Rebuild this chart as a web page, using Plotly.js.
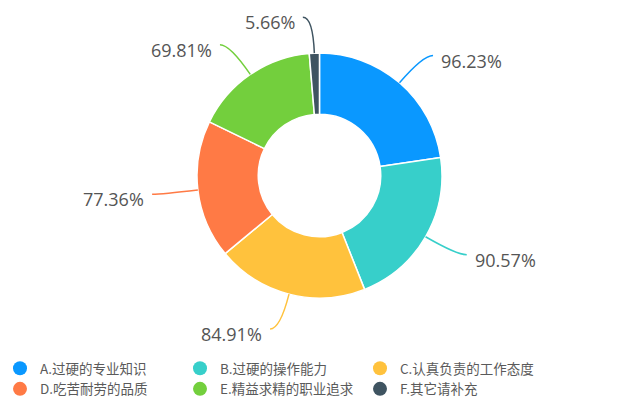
<!DOCTYPE html>
<html>
<head>
<meta charset="utf-8">
<script src="https://cdn.plot.ly/plotly-3.0.1.min.js"></script>
<style>html,body{margin:0;padding:0;background:#fff;}#chart{width:627px;height:405px;}</style>
</head>
<body>
<div id="chart"></div>
<script>
const categories = ['A.过硬的专业知识','B.过硬的操作能力','C.认真负责的工作态度','D.吃苦耐劳的品质','E.精益求精的职业追求','F.其它请补充'];
const values = [96.23, 90.57, 84.91, 77.36, 69.81, 5.66];
const valueLabels = values.map(v => v.toFixed(2) + '%');
const colors = ['#0A98FF', '#37CFCA', '#FFC23D', '#FF7A45', '#73CF3D', '#3F5461'];

const W = 627, H = 405;
const domX = [0.3142, 0.7049];
const domY = [0.2642, 0.8691];
const cx = (domX[0] + domX[1]) / 2 * W;
const cy = (1 - (domY[0] + domY[1]) / 2) * H;
const R = Math.min((domX[1] - domX[0]) * W, (domY[1] - domY[0]) * H) / 2;
const L1 = 36, L2 = 10;
const px = x => x / W, py = y => 1 - y / H;

const total = values.reduce((a, b) => a + b, 0);
const shapes = [], annotations = [];
let cum = 0;
values.forEach((v, i) => {
  const mid = (cum + v / 2) / total * 2 * Math.PI;
  cum += v;
  const s = Math.sin(mid), c = Math.cos(mid);
  const x0 = cx + R * s, y0 = cy - R * c;
  const x1 = cx + (R + L1) * s, y1 = cy - (R + L1) * c;
  const dir = s >= 0 ? 1 : -1;
  const x2 = x1 + dir * L2, y2 = y1;
  shapes.push({
    type: 'path', xref: 'paper', yref: 'paper',
    path: `M ${px(x0)} ${py(y0)} Q ${px(x1)} ${py(y1)} ${px(x2)} ${py(y2)}`,
    line: {color: colors[i], width: 1.5}
  });
  annotations.push({
    xref: 'paper', yref: 'paper', x: px(x2 + dir * 6), y: py(y2 + 5),
    xanchor: dir > 0 ? 'left' : 'right', yanchor: 'middle', showarrow: false,
    text: valueLabels[i], font: {family: 'Open Sans, Noto Sans', size: 18, color: '#555555'}
  });
});

const traces = [{
  type: 'pie', labels: categories, values: values, sort: false, direction: 'clockwise', rotation: 0,
  hole: 0.5, textinfo: 'none', hoverinfo: 'label+value', showlegend: false,
  marker: {colors: colors, line: {color: '#ffffff', width: 1.5}},
  domain: {x: domX, y: domY}
}];
categories.forEach((cat, i) => {
  traces.push({
    type: 'scatter', mode: 'markers', x: [null], y: [null], name: cat,
    marker: {color: colors[i], size: 14, symbol: 'circle'}, showlegend: true
  });
});

const layout = {
  width: W, height: H, margin: {l: 0, r: 0, t: 0, b: 0},
  paper_bgcolor: '#ffffff', plot_bgcolor: '#ffffff',
  xaxis: {visible: false}, yaxis: {visible: false},
  showlegend: true,
  legend: {
    orientation: 'h', x: 0, xanchor: 'left', y: 0, yanchor: 'bottom',
    entrywidth: 135, entrywidthmode: 'pixels', itemwidth: 30,
    font: {family: 'Noto Sans CJK SC, Noto Sans', size: 13.5, color: '#5a5a5a'},
    bgcolor: 'rgba(0,0,0,0)', traceorder: 'normal'
  },
  shapes: shapes, annotations: annotations
};
Plotly.newPlot('chart', traces, layout, {displayModeBar: false, staticPlot: true});
</script>
</body>
</html>
